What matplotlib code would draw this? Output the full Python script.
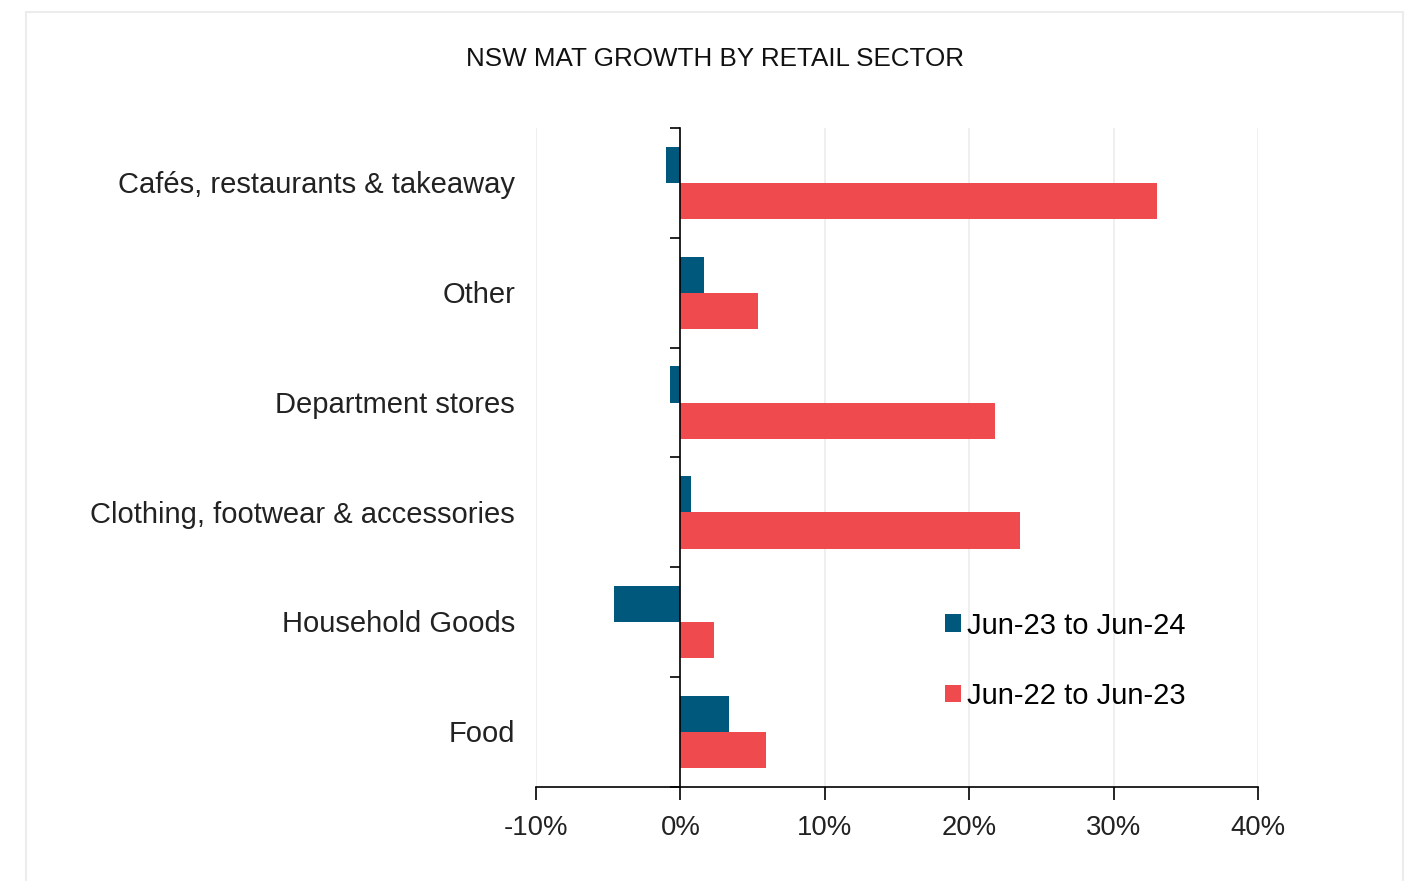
import matplotlib.pyplot as plt
from matplotlib.patches import Rectangle
from matplotlib.ticker import PercentFormatter, FixedLocator
import numpy as np


SECTORS = ['Cafés, restaurants & takeaway',
           'Other',
           'Department stores',
           'Clothing, footwear & accessories',
           'Household Goods',
           'Food']
GROWTH_23_24 = [-1.0, 1.6, -0.75, 0.75, -4.6, 3.4]
GROWTH_22_23 = [33.0, 5.4, 21.8, 23.55, 2.35, 5.95]
X_TICKS = [-10, 0, 10, 20, 30, 40]

BLUE = '#00587c'
RED = '#ef4b4e'

plt.rcParams['font.family'] = ['Liberation Sans', 'DejaVu Sans']
plt.rcParams['axes.unicode_minus'] = False

fig = plt.figure(figsize=(14.1, 8.81), dpi=100)
# light frame round the whole chart
fig.patches.append(Rectangle((26 / 1410, -0.01), (1403 - 26) / 1410, 1 - 12 / 881 + 0.01,
                             transform=fig.transFigure, fill=False,
                             edgecolor='#ececec', linewidth=1.5))

ax = fig.add_axes([536 / 1410, 1 - 787 / 881, (1258 - 536) / 1410, (787 - 128) / 881])

n = len(SECTORS)
y = np.arange(n)[::-1].astype(float)
h = 0.33
ax.barh(y + h / 2, GROWTH_23_24, height=h, color=BLUE, label='Jun-23 to Jun-24', zorder=3)
ax.barh(y - h / 2, GROWTH_22_23, height=h, color=RED, label='Jun-22 to Jun-23', zorder=3)

ax.set_xlim(-10, 40)
ax.set_ylim(-0.5, n - 0.5)
ax.xaxis.set_major_locator(FixedLocator(X_TICKS))
ax.xaxis.set_major_formatter(PercentFormatter(decimals=0))
ax.grid(axis='x', color='#ececec', linewidth=1.2, zorder=0)

for side in ('top', 'right'):
    ax.spines[side].set_visible(False)
ax.spines['left'].set_position(('data', 0))
ax.spines['left'].set_linewidth(1.2)
ax.spines['bottom'].set_linewidth(1.2)
ax.spines['left'].set_zorder(4)

# y ticks sit on category boundaries, labels are drawn separately at the left
ax.set_yticks(np.arange(n + 1) - 0.5)
ax.set_yticklabels([])
ax.tick_params(axis='y', length=7, width=1.2, direction='out')
ax.tick_params(axis='x', length=9, width=1.2, direction='out', labelsize=19.8,
               pad=11, labelcolor='#222222')
for yi, name in zip(y, SECTORS):
    ax.text(-0.029, yi - 0.02, name, transform=ax.get_yaxis_transform(), ha='right',
            va='center', fontsize=21, color='#222222')

fig.text(715 / 1410, 1 - 59 / 881, 'NSW MAT GROWTH BY RETAIL SECTOR', ha='center',
         va='center', fontsize=18.7, color='#111111')

ax.legend(loc='upper left', bbox_to_anchor=(0.55, 0.284), frameon=False,
          fontsize=21, handlelength=0.55, handleheight=0.55, handletextpad=0.2,
          labelspacing=1.45, borderaxespad=0)

fig.savefig('out.png', dpi=100)
